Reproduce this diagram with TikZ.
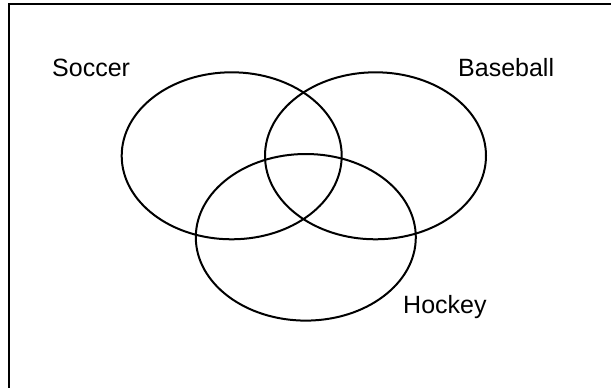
\documentclass[tikz,border=0pt]{standalone}
\usepackage{fontspec}
\setmainfont{Liberation Sans}
\begin{document}
\begin{tikzpicture}[
    x=1pt, y=-1pt,
    set/.style={draw, line width=2pt},
    frame/.style={draw, line width=2.2pt},
    setlabel/.style={font=\fontsize{25}{30}\selectfont, anchor=base west, inner sep=0pt}
]

% Canvas
\useasboundingbox (0,0) rectangle (611,388);
\clip (0,0) rectangle (611,388);
\draw[frame] (9,4) rectangle (640,420);

% Sets
\draw[set] (231.7,155.8) ellipse [x radius=110, y radius=83.5];
\draw[set] (375.5,155.8) ellipse [x radius=110.5, y radius=83.5];
\draw[set] (305.8,237.3) ellipse [x radius=110, y radius=83.3];

% Labels
\node[setlabel] (soccer) at (52,76.7) {Soccer};
\node[setlabel] (baseball) at (458,76.7) {Baseball};
\node[setlabel] (hockey) at (403,313.3) {Hockey};

\end{tikzpicture}
\end{document}
